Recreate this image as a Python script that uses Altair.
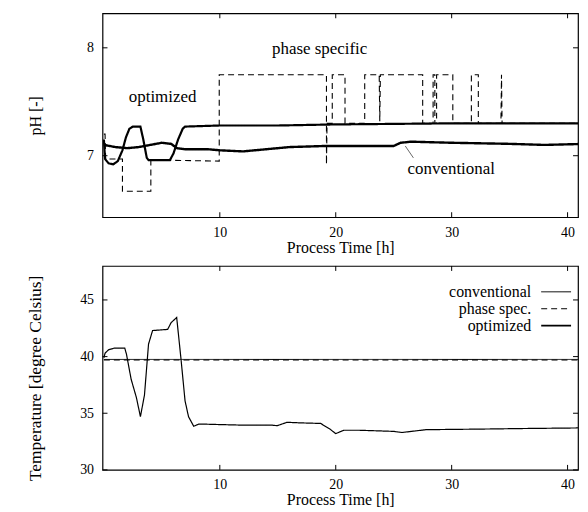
import altair as alt
import pandas as pd

# ---------------- data ----------------
# pH panel
ph_conv_x = [0.0, 1.0, 2.0, 3.0, 4.0, 5.0, 5.8, 6.3, 7.0, 9.0, 10.0, 12.0, 14.0, 16.0, 19.0, 22.0, 25.0, 25.6, 26.5, 30.0, 35.0, 38.0, 41.6]
ph_conv_y = [7.10, 7.08, 7.07, 7.08, 7.10, 7.12, 7.11, 7.07, 7.06, 7.06, 7.05, 7.04, 7.06, 7.08, 7.09, 7.09, 7.09, 7.12, 7.13, 7.12, 7.11, 7.10, 7.11]

ph_phase_x = [0.0, 0.1, 0.15, 1.6, 1.6, 4.05, 4.05, 9.95, 9.95, 19.2, 19.2, 19.25, 19.7, 19.7, 20.8, 20.8, 22.5, 22.5,
              23.75, 23.8, 23.85, 27.5, 27.5, 28.4, 28.4, 28.55, 28.55, 28.7, 28.7, 30.1, 30.1, 31.7, 31.7, 32.3, 32.3,
              34.25, 34.3, 34.35, 41.6]
ph_phase_y = [7.20, 7.20, 6.97, 6.97, 6.67, 6.67, 6.96, 6.95, 7.75, 7.75, 6.92, 7.30, 7.30, 7.75, 7.75, 7.30, 7.30, 7.75,
              7.75, 7.32, 7.75, 7.75, 7.30, 7.30, 7.75, 7.75, 7.30, 7.30, 7.75, 7.75, 7.30, 7.30, 7.75, 7.75, 7.30,
              7.30, 7.75, 7.30, 7.30]

ph_opt_x = [0.0, 0.1, 0.4, 0.8, 1.2, 1.6, 1.9, 2.2, 2.5, 3.15, 3.4, 3.7, 3.85, 5.7, 6.0, 6.4, 6.8, 7.0, 10.0, 15.0, 20.0, 30.0, 41.6]
ph_opt_y = [7.15, 6.97, 6.93, 6.92, 6.95, 7.05, 7.17, 7.25, 7.27, 7.27, 7.15, 6.98, 6.96, 6.96, 7.02, 7.15, 7.25, 7.27, 7.28, 7.28, 7.29, 7.30, 7.30]

# temperature panel
t_conv_x = [0.0, 41.6]
t_conv_y = [39.75, 39.75]
t_phase_x = [0.0, 41.6]
t_phase_y = [39.7, 39.7]
t_opt_x = [0.0, 0.1, 0.4, 0.9, 1.8, 1.95, 2.35, 2.8, 3.15, 3.5, 3.85, 4.2, 5.5, 5.8, 6.28, 6.65, 7.0, 7.3, 7.75, 8.2,
           10.0, 12.0, 14.5, 14.95, 15.8, 17.0, 18.7, 19.5, 20.0, 20.7, 22.0, 25.0, 25.7, 27.8, 32.4, 36.0, 40.7, 41.6]
t_opt_y = [39.9, 40.3, 40.6, 40.75, 40.75, 40.2, 38.0, 36.4, 34.7, 36.6, 41.1, 42.3, 42.4, 43.0, 43.45, 39.8, 36.1, 34.7, 33.85, 34.05,
           34.0, 33.95, 33.95, 33.9, 34.2, 34.15, 34.1, 33.6, 33.2, 33.5, 33.5, 33.4, 33.3, 33.55, 33.6, 33.65, 33.7, 33.8]

x_ticks = [10, 20, 30, 40]
ph_ticks = [7, 8]
t_ticks = [30, 35, 40, 45]

ph_notes = ["optimized", "phase specific", "conventional"]
ph_notes_x = [2.15, 14.5, 26.2]
ph_notes_y = [7.54, 7.99, 6.88]
leader_x, leader_y, leader_x2, leader_y2 = [26.0], [7.09], [26.7], [6.98]

legend_labels = ["conventional", "phase spec.", "optimized"]

# ---------------- layout / style ----------------
W, H = 478, 205
XDOM = [-0.12, 40.9]
FONT = "Liberation Serif"
TL = 5  # tick length


def df(xs, ys):
    return pd.DataFrame({"x": xs, "y": ys, "i": list(range(len(xs)))})


def panel(series, ydom, yticks, ytitle, tsize, ty, legend=False, notes=None):
    xenc = alt.X("x:Q", scale=alt.Scale(domain=XDOM, nice=False, zero=False),
                 axis=alt.Axis(values=x_ticks, format="d", title="Process Time [h]", labelPadding=8, titlePadding=0))
    yenc = alt.Y("y:Q", scale=alt.Scale(domain=ydom, nice=False, zero=False),
                 axis=alt.Axis(values=yticks, format="d", title=ytitle, labelPadding=9, titleFontSize=tsize,
                               titleX=-67, titleY=ty, titleBaseline="middle", titleAngle=270))
    layers = []
    for data, dash, sw in series:
        layers.append(
            alt.Chart(data).mark_line(color="black", strokeDash=dash, strokeWidth=sw, clip=True)
            .encode(x=xenc, y=yenc, order="i:Q")
        )
    xt = pd.DataFrame({"x": x_ticks})
    yt = pd.DataFrame({"y": yticks})
    layers += [
        alt.Chart(xt).mark_rule(color="black", strokeWidth=1).encode(x="x:Q", y=alt.value(H), y2=alt.value(H - TL)),
        alt.Chart(xt).mark_rule(color="black", strokeWidth=1).encode(x="x:Q", y=alt.value(0), y2=alt.value(TL)),
        alt.Chart(yt).mark_rule(color="black", strokeWidth=1).encode(y="y:Q", x=alt.value(0), x2=alt.value(TL)),
        alt.Chart(yt).mark_rule(color="black", strokeWidth=1).encode(y="y:Q", x=alt.value(W), x2=alt.value(W - TL)),
    ]
    if notes is not None:
        nd = pd.DataFrame({"t": ph_notes, "x": ph_notes_x, "y": ph_notes_y})
        layers.append(alt.Chart(nd).mark_text(font=FONT, fontSize=17, align="left", baseline="middle", color="black")
                      .encode(x="x:Q", y="y:Q", text="t:N"))
        ld = pd.DataFrame({"x": leader_x, "y": leader_y, "x2": leader_x2, "y2": leader_y2})
        layers.append(alt.Chart(ld).mark_rule(color="black", strokeWidth=0.6)
                      .encode(x="x:Q", y="y:Q", x2="x2:Q", y2="y2:Q"))
    if legend:
        styles = [([1, 0], 1.0), ([6, 4], 1.0), ([1, 0], 1.6)]
        for k, (lab, (dash, sw)) in enumerate(zip(legend_labels, styles)):
            yy = 26 + 17 * k
            ldf = pd.DataFrame({"t": [lab]})
            layers.append(alt.Chart(ldf).mark_text(font=FONT, fontSize=16, align="right", baseline="middle", color="black")
                          .encode(text="t:N", x=alt.value(431), y=alt.value(yy)))
            layers.append(alt.Chart(ldf).mark_rule(color="black", strokeDash=dash, strokeWidth=sw)
                          .encode(x=alt.value(441), x2=alt.value(471), y=alt.value(yy)))
    return alt.layer(*layers).properties(width=W, height=H)


top = panel(
    [(df(ph_conv_x, ph_conv_y), [1, 0], 2.4),
     (df(ph_opt_x, ph_opt_y), [1, 0], 2.2),
     (df(ph_phase_x, ph_phase_y), [6, 4], 1.1)],
    [6.43, 8.32], ph_ticks, "pH [-]", 16, H / 2, notes=True)

bottom = panel(
    [(df(t_conv_x, t_conv_y), [1, 0], 1.0),
     (df(t_phase_x, t_phase_y), [6, 4], 1.2),
     (df(t_opt_x, t_opt_y), [1, 0], 1.2)],
    [30, 48], t_ticks, "Temperature [degree Celsius]", 17.5, H / 2 + 10, legend=True)

chart = alt.vconcat(top, bottom, spacing=8).properties(
    padding={"left": 18, "top": 2, "right": 0, "bottom": 0},
    background="white",
).configure_view(
    stroke="black", strokeWidth=1.2
).configure_axis(
    domain=False, ticks=False, grid=False,
    labelFont=FONT, labelFontSize=14, labelColor="black",
    titleFont=FONT, titleFontSize=16, titleFontWeight="normal", titleColor="black"
)

chart.save("out.html", embed_options={"renderer": "svg", "actions": False})
